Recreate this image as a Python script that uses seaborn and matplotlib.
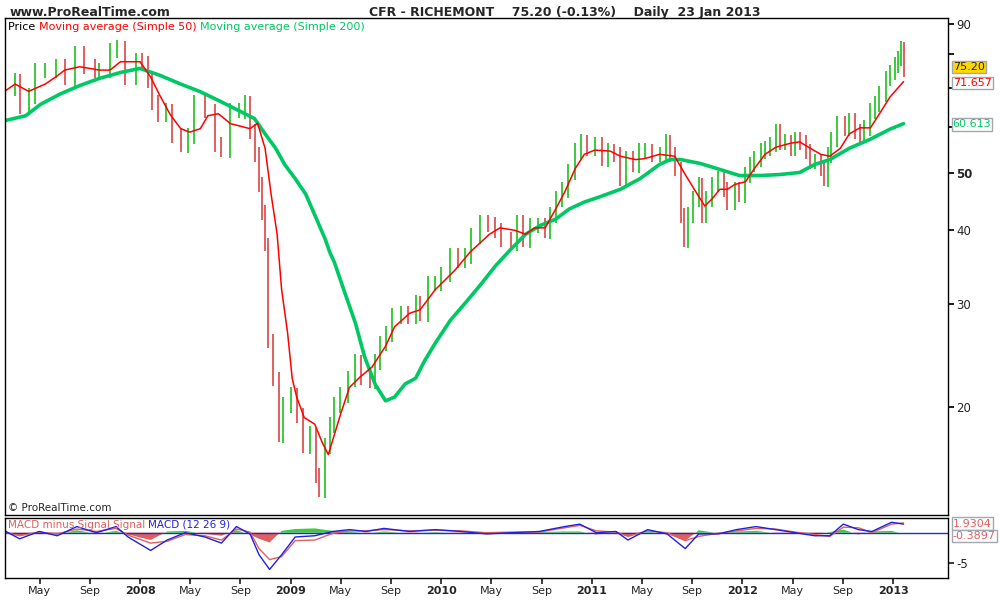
import numpy as np
import pandas as pd
import matplotlib
matplotlib.use("Agg")
import matplotlib.pyplot as plt
import seaborn as sns

# ---------- data (decimal years / prices) ----------
price_dates = [2007.10,2007.17,2007.20,2007.26,2007.30,2007.37,2007.44,2007.50,2007.57,2007.63,2007.70,2007.73,2007.80,2007.85,2007.90,2007.97,
    2008.01,2008.05,2008.08,2008.12,2008.17,2008.21,2008.27,2008.32,2008.36,2008.43,2008.50,2008.54,2008.60,2008.66,2008.70,2008.73,2008.76,2008.79,2008.81,2008.83,2008.85,2008.88,2008.92,2008.95,
    2009.00,2009.04,2009.08,2009.13,2009.17,2009.19,2009.23,2009.26,2009.29,2009.33,2009.38,2009.43,2009.47,2009.53,2009.56,2009.59,2009.63,2009.67,2009.73,2009.78,2009.83,2009.86,2009.91,2009.96,
    2010.00,2010.06,2010.11,2010.16,2010.20,2010.26,2010.31,2010.36,2010.40,2010.46,2010.50,2010.54,2010.59,2010.64,2010.69,2010.72,2010.76,2010.80,2010.84,2010.89,2010.93,2010.97,
    2011.02,2011.07,2011.11,2011.15,2011.19,2011.23,2011.27,2011.31,2011.35,2011.40,2011.45,2011.49,2011.52,2011.55,2011.59,2011.61,2011.64,2011.67,2011.71,2011.73,2011.76,2011.80,2011.84,2011.88,2011.90,2011.95,2011.98,
    2012.02,2012.05,2012.08,2012.12,2012.15,2012.18,2012.22,2012.25,2012.28,2012.32,2012.35,2012.38,2012.42,2012.45,2012.48,2012.52,2012.54,2012.57,2012.59,2012.63,2012.68,2012.71,2012.75,2012.78,2012.81,2012.85,2012.88,2012.91,2012.95,2012.98,
    2013.01,2013.03,2013.05,2013.07]
price_close = [70,72,65,68,75,75,76,73,80,76,75,75,81,82,73,78,
    77,72,66,63,64,58,56,58,66,64,56,55,64,64,66,59,54,48,43,38,26,22.4,18,20.2,
    21,19.4,17.2,18,15.3,14.5,17.2,18.7,20.2,21,22.4,23.9,22.5,22.2,23.9,25.7,26.7,28.6,28.9,28.6,30.1,28.9,32.5,32.5,
    33.7,36.2,35.6,36.2,39.2,41.3,41,40,38.6,38.2,41.3,38.6,40.8,40.8,40,42.5,45.3,47,50.4,54.6,56.6,55.2,
    56.1,53,54.6,53.9,49,53,51.8,54.6,54.6,53.9,53.9,56.6,53.9,51,42.5,38.6,42.5,45.3,47.9,42.5,45.3,47.9,49,47,44.7,47,46.1,
    49.8,51.8,53,54.6,55.2,56.1,59,56.6,56.6,55.2,57.2,56.6,54.6,52.4,52.4,51,49,53.9,57.2,60.8,59.8,61.5,59,58.4,59.8,63.9,65.8,68.3,72.6,74.3,
    76.6,78.6,81.6,75.2]

ma50_dates = [2007.10,2007.17,2007.26,2007.37,2007.44,2007.50,2007.60,2007.73,2007.80,2007.87,2008.00,2008.07,2008.13,2008.20,2008.27,2008.33,2008.40,2008.45,2008.52,2008.60,2008.73,2008.78,2008.83,2008.87,2008.91,2008.94,2008.98,2009.01,2009.04,2009.09,2009.16,2009.21,2009.25,
    2009.33,2009.39,2009.46,2009.54,2009.63,2009.69,2009.79,2009.86,2009.96,2010.09,2010.19,2010.32,2010.39,2010.49,2010.56,2010.62,2010.69,2010.76,2010.82,2010.89,2010.95,2011.02,2011.12,2011.19,2011.29,
    2011.35,2011.45,2011.55,2011.62,2011.68,2011.75,2011.80,2011.85,2011.90,2011.95,2012.02,2012.08,2012.15,2012.22,2012.32,2012.38,2012.45,2012.52,2012.58,2012.65,2012.71,2012.78,2012.85,2012.91,2012.98,2013.07]
ma50_vals = [69,71,69,71,73,75,76,75,75,77.5,77.5,73,68,63,59.6,58.8,59.6,62.7,63.2,60.8,59.6,60.9,55.2,46.1,39.4,31.7,26.7,22.4,20.8,19.2,18.7,17.4,16.6,
    19.4,21.6,22.5,23.4,25.4,27.4,28.9,29.3,31.7,34.2,36.7,39.4,40.4,40,39.4,40.4,40.4,43.5,46.5,51,53.9,54.8,54.6,53.5,52.8,
    53,53.9,53.5,49.8,47,44,45.3,47,47,47.9,48.4,51,53.9,55.4,56.3,56.6,55.2,53.9,53.5,55.2,58.4,59.8,59.8,63.2,67.5,71.7]

ma200_dates = [2007.10,2007.24,2007.34,2007.47,2007.60,2007.73,2007.87,2008.00,2008.13,2008.27,2008.40,2008.53,2008.66,2008.76,2008.83,2008.90,2008.96,2009.03,2009.10,2009.16,2009.23,2009.26,
    2009.29,2009.36,2009.43,2009.49,2009.56,2009.63,2009.69,2009.76,2009.83,2009.89,2009.96,2010.06,2010.16,2010.26,2010.36,2010.46,2010.56,2010.66,2010.76,2010.85,2010.95,2011.05,2011.19,2011.32,
    2011.45,2011.52,2011.59,2011.72,2011.85,2011.98,2012.12,2012.25,2012.38,2012.48,2012.58,2012.71,2012.85,2012.98,2013.07]
ma200_vals = [61.5,62.7,65.6,68.3,70.6,72.6,74.3,75.5,73.5,71.0,68.9,66.4,63.9,62.0,58.4,55.2,51.8,49,46.1,42.5,38.6,36.7,
    35.3,31.3,27.8,24.4,21.9,20.5,20.8,21.9,22.4,24,25.7,28.1,30.1,32.3,34.8,37.1,39.4,40.8,41.8,43.5,44.7,45.6,47,49,
    51.8,52.8,52.8,52,50.8,49.6,49.6,49.8,50.2,51.8,52.8,55.2,57.2,59.5,60.8]

macd_dates = [2007.11,2007.20,2007.33,2007.45,2007.58,2007.71,2007.84,2007.92,2008.07,2008.18,2008.30,2008.43,2008.54,2008.64,2008.73,2008.79,2008.86,2008.94,
    2009.03,2009.16,2009.28,2009.39,2009.50,2009.62,2009.79,2009.96,2010.13,2010.30,2010.47,2010.65,2010.82,2010.92,2011.03,2011.16,2011.24,2011.37,2011.50,2011.62,2011.71,2011.84,2011.96,
    2012.09,2012.22,2012.35,2012.48,2012.58,2012.67,2012.77,2012.86,2012.99,2013.07]
macd_vals = [0.2,-1.0,0.2,-0.5,1.0,0,1.0,-0.7,-2.9,-1.2,0,-0.7,-1.7,1.0,-0.2,-3.6,-6.0,-3.6,
    -0.7,-0.5,0.2,0.5,0.2,0.7,0.2,0.5,0.2,-0.2,0,0.2,1.0,1.4,0,0.2,-1.2,0.5,-0.2,-2.6,-0.2,-0.2,0.5,
    1.0,0.5,0,-0.5,-0.5,1.4,0.5,0.2,1.7,1.4]
hist_vals = [0.2,-0.5,0.1,-0.3,0.4,-0.2,0.3,-0.3,-1.2,0.2,0.3,-0.2,-0.5,0.4,-0.3,-1.0,-1.6,0.3,
    0.6,0.7,0.3,0.2,-0.1,0.2,-0.1,0.1,-0.1,-0.2,-0.1,0.1,0.2,0.2,-0.3,0.1,-0.6,0.2,-0.2,-1.3,0.4,-0.1,0.2,
    0.3,-0.1,-0.1,-0.2,0.1,0.5,-0.3,0.2,0.3,-0.2]

year_ticks = [2008, 2009, 2010, 2011, 2012, 2013]
month_ticks = ["May", "Sep"]
price_ticks = [20, 30, 40, 50, 60, 70, 80, 90]

# ---------- figure ----------
sns.set_theme(style="white")
fig = plt.figure(figsize=(10, 6), dpi=100)
ax = fig.add_axes([0.005, 85/600, 0.943, 497/600])
mx = fig.add_axes([0.005, 22/600, 0.943, 60/600])
xmin, xmax = 2007.103, 2013.365
GREEN = "#3ec93e"; RED = "#e06060"; MAG = "#ff0000"; MA2 = "#00c864"

# price bars
pc = np.array(price_close)
pdx = np.array(price_dates)
prev = np.concatenate([[pc[0]], pc[:-1]])
for d, c, p in zip(pdx, pc, prev):
    lo, hi = min(c, p), max(c, p)
    pad = 0.03 * c
    ax.vlines(d, lo - pad, hi + pad, color=GREEN if c >= p else RED, lw=1.4)

sns.lineplot(x=ma200_dates, y=ma200_vals, ax=ax, color=MA2, lw=2.6, estimator=None, sort=False)
sns.lineplot(x=ma50_dates, y=ma50_vals, ax=ax, color=MAG, lw=1.1, estimator=None, sort=False)

ax.set_yscale("log")
ax.set_ylim(13.1, 92)
ax.set_xlim(xmin, xmax)
ax.yaxis.tick_right()
ax.set_yticks(price_ticks)
ax.set_yticks([], minor=True)
ax.set_yticklabels([str(t) if t in (20, 30, 40, 50, 90) else "" for t in price_ticks], fontsize=8.5)
for lab in ax.get_yticklabels():
    if lab.get_text() == "50":
        lab.set_fontweight("bold")
ax.tick_params(axis="y", length=4, direction="out", right=True, color="black", pad=2)
ax.set_xticks([])
for s in ax.spines.values():
    s.set_color("black"); s.set_linewidth(1)

# value boxes
tr = ax.get_yaxis_transform()
ax.text(1.005, 76.0, "75.20", transform=tr, fontsize=8, va="center", ha="left",
        bbox=dict(boxstyle="square,pad=0.1", fc="#ffd700", ec="#a0a8b0"))
ax.text(1.005, 71.3, "71.657", transform=tr, fontsize=8, va="center", ha="left", color="red",
        bbox=dict(boxstyle="square,pad=0.1", fc="white", ec="#a0a8b0"))
ax.text(1.005, 60.613, "60.613", transform=tr, fontsize=8, va="center", ha="left", color=MA2,
        bbox=dict(boxstyle="square,pad=0.1", fc="white", ec="#a0a8b0"))

# legend text
t = ax.text(0.003, 0.992, "Price ", transform=ax.transAxes, fontsize=8, va="top", color="black")
t2 = ax.annotate("Moving average (Simple 50) ", xycoords=t, xy=(1, 0), va="bottom", fontsize=8, color="red")
ax.annotate("Moving average (Simple 200)", xycoords=t2, xy=(1, 0), va="bottom", fontsize=8, color=MA2)
ax.text(0.003, 0.004, "© ProRealTime.com", transform=ax.transAxes, fontsize=7.5, va="bottom")

# ---------- MACD ----------
md = np.array(macd_dates); mv = np.array(macd_vals); hv = np.array(hist_vals)
sig = mv - hv
mx.fill_between(md, 0, hv, where=hv >= 0, color=GREEN, lw=0, interpolate=True)
mx.fill_between(md, 0, hv, where=hv < 0, color=RED, lw=0, interpolate=True)
mx.axhline(0, color="#2030c0", lw=1)
sns.lineplot(x=md, y=sig, ax=mx, color=RED, lw=1, estimator=None)
sns.lineplot(x=md, y=mv, ax=mx, color="#2020e0", lw=1, estimator=None)
mx.set_xlim(xmin, xmax)
mx.set_ylim(-7.4, 2.4)
mx.yaxis.tick_right()
mx.set_yticks([-5]); mx.set_yticklabels(["-5"], fontsize=8.5)
mx.tick_params(axis="y", length=4, direction="out", pad=2)
trm = mx.get_yaxis_transform()
mx.text(1.005, 1.5, "1.9304", transform=trm, fontsize=8, va="center", color=RED,
        bbox=dict(boxstyle="square,pad=0.1", fc="white", ec="#a0a8b0"))
mx.text(1.005, -0.6, "-0.3897", transform=trm, fontsize=8, va="center", color=RED,
        bbox=dict(boxstyle="square,pad=0.1", fc="white", ec="#a0a8b0"))
m1 = mx.text(0.003, 0.97, "MACD minus Signal ", transform=mx.transAxes, fontsize=7.5, va="top", color=RED)
m2 = mx.annotate("Signal ", xycoords=m1, xy=(1, 0), va="bottom", fontsize=7.5, color=RED)
mx.annotate("MACD (12 26 9)", xycoords=m2, xy=(1, 0), va="bottom", fontsize=7.5, color="#2020e0")

ticks, labels = [], []
for y in range(2007, 2014):
    if y in year_ticks:
        ticks.append(y); labels.append(str(y))
    for mname, mnum in zip(month_ticks, (5, 9)):
        v = y + (mnum - 1) / 12
        if xmin < v < 2013.1:
            ticks.append(v); labels.append(mname)
mx.set_xticks(ticks)
mx.set_xticklabels(labels, fontsize=8)
for lab in mx.get_xticklabels():
    if lab.get_text().isdigit():
        lab.set_fontweight("bold")
mx.tick_params(axis="x", length=4, direction="out", bottom=True, pad=2)
for s in mx.spines.values():
    s.set_color("black"); s.set_linewidth(1)

fig.text(0.01, 0.99, "www.ProRealTime.com", fontsize=9, fontweight="bold", va="top")
fig.text(0.565, 0.99, "CFR - RICHEMONT    75.20 (-0.13%)    Daily  23 Jan 2013",
         fontsize=9, fontweight="bold", va="top", ha="center")

fig.savefig("out.png", dpi=100, facecolor="white")
